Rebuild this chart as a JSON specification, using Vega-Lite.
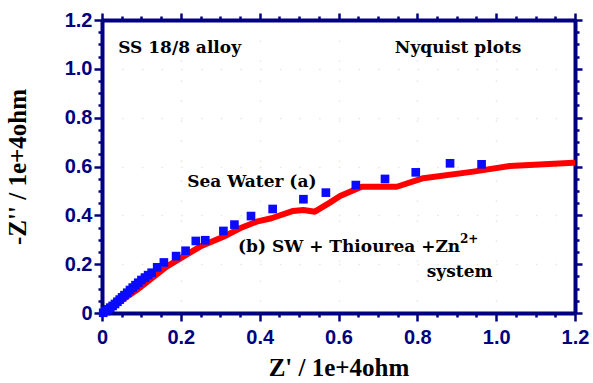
{
  "$schema": "https://vega.github.io/schema/vega-lite/v6.json",
  "autosize": "none",
  "width": 473,
  "height": 293,
  "padding": {"left": 102, "top": 20, "right": 18, "bottom": 70},
  "background": "white",
  "config": {
    "view": {"stroke": null},
    "axis": {
      "domainColor": "#000080",
      "domainWidth": 4,
      "tickColor": "#000080",
      "tickWidth": 2.5,
      "labelColor": "#000080",
      "labelFont": "Liberation Sans",
      "labelFontWeight": "bold",
      "labelFontSize": 20,
      "titleColor": "#000000",
      "titleFont": "Liberation Serif",
      "titleFontWeight": "bold",
      "titleFontSize": 25,
      "grid": false
    }
  },
  "datasets": {
    "seawater": [
      {"x": 0.003, "y": 0.001}, {"x": 0.009, "y": 0.008}, {"x": 0.016, "y": 0.015},
      {"x": 0.021, "y": 0.022}, {"x": 0.027, "y": 0.029}, {"x": 0.033, "y": 0.037},
      {"x": 0.039, "y": 0.046}, {"x": 0.045, "y": 0.055}, {"x": 0.051, "y": 0.064},
      {"x": 0.057, "y": 0.073}, {"x": 0.064, "y": 0.083}, {"x": 0.071, "y": 0.094},
      {"x": 0.078, "y": 0.104}, {"x": 0.085, "y": 0.114}, {"x": 0.092, "y": 0.124},
      {"x": 0.100, "y": 0.135}, {"x": 0.109, "y": 0.145}, {"x": 0.117, "y": 0.155},
      {"x": 0.126, "y": 0.165}, {"x": 0.140, "y": 0.187}, {"x": 0.157, "y": 0.207},
      {"x": 0.188, "y": 0.233}, {"x": 0.212, "y": 0.255}, {"x": 0.238, "y": 0.295},
      {"x": 0.262, "y": 0.298}, {"x": 0.308, "y": 0.336}, {"x": 0.336, "y": 0.362},
      {"x": 0.378, "y": 0.397}, {"x": 0.433, "y": 0.426}, {"x": 0.511, "y": 0.466},
      {"x": 0.568, "y": 0.493}, {"x": 0.644, "y": 0.524}, {"x": 0.718, "y": 0.549},
      {"x": 0.796, "y": 0.576}, {"x": 0.883, "y": 0.613}, {"x": 0.963, "y": 0.609}
    ],
    "inhibited": [
      {"x": 0.0, "y": 0.0}, {"x": 0.03, "y": 0.03}, {"x": 0.088, "y": 0.094},
      {"x": 0.164, "y": 0.190}, {"x": 0.206, "y": 0.231}, {"x": 0.249, "y": 0.272},
      {"x": 0.308, "y": 0.312}, {"x": 0.350, "y": 0.347}, {"x": 0.392, "y": 0.374},
      {"x": 0.430, "y": 0.388}, {"x": 0.485, "y": 0.418}, {"x": 0.511, "y": 0.422},
      {"x": 0.540, "y": 0.415}, {"x": 0.578, "y": 0.452}, {"x": 0.604, "y": 0.479},
      {"x": 0.659, "y": 0.517}, {"x": 0.748, "y": 0.517}, {"x": 0.815, "y": 0.552},
      {"x": 0.942, "y": 0.579}, {"x": 1.035, "y": 0.602}, {"x": 1.196, "y": 0.615}
    ],
    "notes": [
      {"x": 0.041, "y": 1.065, "label": "SS 18/8 alloy"},
      {"x": 0.743, "y": 1.065, "label": "Nyquist plots"},
      {"x": 0.216, "y": 0.516, "label": "Sea Water (a)"},
      {"x": 0.345, "y": 0.250, "label": "(b) SW + Thiourea +Zn"},
      {"x": 0.824, "y": 0.147, "label": "system"}
    ],
    "sup": [
      {"x": 0.908, "y": 0.285, "label": "2+"}
    ]
  },
  "layer": [
    {
      "data": {"name": "inhibited"},
      "mark": {"type": "line", "color": "#ff0000", "strokeWidth": 6, "strokeJoin": "round", "strokeCap": "round", "clip": true},
      "encoding": {
        "x": {"field": "x", "type": "quantitative", "scale": {"domain": [0, 1.2], "nice": false, "zero": false},
          "axis": {"orient": "bottom", "title": "Z' / 1e+4ohm", "values": [0, 0.2, 0.4, 0.6, 0.8, 1.0, 1.2], "tickSize": 8, "labelPadding": 6, "titlePadding": 8,
            "labelExpr": "datum.value == 0 ? '0' : format(datum.value, '.1f')", "labelFlush": false, "labelOverlap": false,
            "grid": true, "gridColor": "#d0d0b8", "gridDash": [1.5, 18.5], "gridWidth": 1.5, "gridOpacity": 0.5}},
        "y": {"field": "y", "type": "quantitative", "scale": {"domain": [0, 1.2], "nice": false, "zero": false},
          "axis": {"orient": "left", "title": "-Z'' / 1e+4ohm", "values": [0, 0.2, 0.4, 0.6, 0.8, 1.0, 1.2], "tickSize": 8, "labelPadding": 2, "titlePadding": 34,
            "labelExpr": "datum.value == 0 ? '0' : format(datum.value, '.1f')", "labelFlush": false, "labelOverlap": false,
            "grid": true, "gridColor": "#d0d0b8", "gridDash": [1.5, 18.2], "gridWidth": 1.5, "gridOpacity": 0.5}}
      }
    },
    {
      "data": {"name": "seawater"},
      "mark": {"type": "point", "shape": "square", "filled": true, "color": "#0a0aff", "opacity": 1, "size": 75},
      "encoding": {
        "x": {"field": "x", "type": "quantitative",
          "axis": {"orient": "bottom", "title": null, "labels": false, "domain": false, "tickSize": 4,
            "values": [0.05, 0.1, 0.15, 0.25, 0.3, 0.35, 0.45, 0.5, 0.55, 0.65, 0.7, 0.75, 0.85, 0.9, 0.95, 1.05, 1.1, 1.15]}},
        "y": {"field": "y", "type": "quantitative",
          "axis": {"orient": "left", "title": null, "labels": false, "domain": false, "tickSize": 4,
            "values": [0.05, 0.1, 0.15, 0.25, 0.3, 0.35, 0.45, 0.5, 0.55, 0.65, 0.7, 0.75, 0.85, 0.9, 0.95, 1.05, 1.1, 1.15]}}
      }
    },
    {
      "data": {"name": "notes"},
      "mark": {"type": "text", "align": "left", "baseline": "alphabetic", "font": "DejaVu Serif", "fontWeight": "bold", "fontSize": 17, "color": "#000000"},
      "encoding": {
        "x": {"field": "x", "type": "quantitative",
          "axis": {"orient": "top", "title": null, "labels": false, "tickSize": 7, "values": [0, 0.2, 0.4, 0.6, 0.8, 1.0, 1.2]}},
        "y": {"field": "y", "type": "quantitative",
          "axis": {"orient": "right", "title": null, "labels": false, "tickSize": 7, "values": [0, 0.2, 0.4, 0.6, 0.8, 1.0, 1.2]}},
        "text": {"field": "label"}
      }
    },
    {
      "data": {"name": "sup"},
      "mark": {"type": "text", "align": "left", "baseline": "alphabetic", "font": "DejaVu Serif", "fontWeight": "bold", "fontSize": 12, "color": "#000000"},
      "encoding": {
        "x": {"field": "x", "type": "quantitative",
          "axis": {"orient": "top", "title": null, "labels": false, "domain": false, "tickSize": 4,
            "values": [0.05, 0.1, 0.15, 0.25, 0.3, 0.35, 0.45, 0.5, 0.55, 0.65, 0.7, 0.75, 0.85, 0.9, 0.95, 1.05, 1.1, 1.15]}},
        "y": {"field": "y", "type": "quantitative",
          "axis": {"orient": "right", "title": null, "labels": false, "domain": false, "tickSize": 4,
            "values": [0.05, 0.1, 0.15, 0.25, 0.3, 0.35, 0.45, 0.5, 0.55, 0.65, 0.7, 0.75, 0.85, 0.9, 0.95, 1.05, 1.1, 1.15]}},
        "text": {"field": "label"}
      }
    }
  ],
  "resolve": {"axis": {"x": "independent", "y": "independent"}}
}
